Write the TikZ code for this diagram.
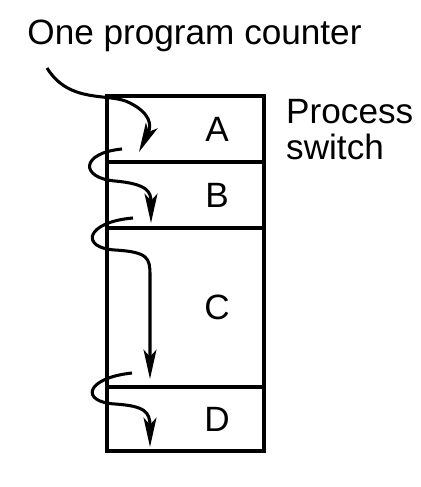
\documentclass[tikz,border=0pt]{standalone}
\usepackage{fontspec}
\setmainfont{Liberation Sans}
\usetikzlibrary{arrows.meta,positioning}
\begin{document}
\begin{tikzpicture} [
  x=0.03cm, y=-0.03cm,
  part/.style= {rectangle,draw,line width=2.6pt,outer sep=0,inner sep=0,minimum width=4.71cm},
  letter/.style= {font=\fontsize{30}{31}\selectfont,inner sep=0},
  counter/.style={line width=2.6pt,-{Stealth[length=25pt,width=11pt,inset=6pt]}}
]
\useasboundingbox (0,0) rectangle (420,487);
\node (A) [part,minimum height=1.98cm] at (185.5,129) {};
\node (B) [part,minimum height=1.98cm,below=0cm of A] {};
\node (C) [part,minimum height=4.77cm,below=0cm of B] {};
\node (D) [part,minimum height=1.92cm,below=0cm of C] {};
\foreach \p in {A,B,C,D}
  \node (l\p) [letter] at ([xshift=0.95cm]\p.center) {\p};
\node (title) [letter,anchor=base] at (194.5,45) {One program counter};
\node (switch) [letter,anchor=north west,align=left] at (286,99) {Process\\switch};
\coordinate (s1) at (47,68);
\coordinate (s2) at (122,149);
\coordinate (s3) at (133,218);
\coordinate (s4) at (132,373);
\draw [counter] (s1) .. controls (70,105) and (110,92) .. (130,103)
  .. controls (150,113) and (152,125) .. (139,152);
\draw [counter] (s2) .. controls (80,153) and (80,178) .. (115,181)
  .. controls (148,184) and (151,192) .. (151,223);
\draw [counter] (s3) .. controls (85,222) and (80,248) .. (115,250)
  .. controls (148,252) and (150,258) .. (150,275) -- (150,379);
\draw [counter] (s4) .. controls (85,378) and (80,402) .. (115,404)
  .. controls (145,406) and (150,412) .. (150,447);
\end{tikzpicture}
\end{document}
